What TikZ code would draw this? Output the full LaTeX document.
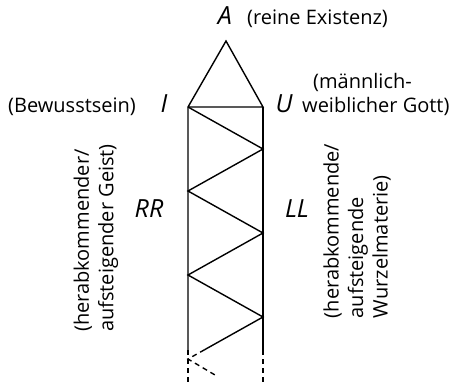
\documentclass[tikz,border=0pt]{standalone}
\usepackage{fontspec}
\setmainfont{Open Sans}
\usetikzlibrary{calc}
\tikzset{
  mainline/.style={line width=1.4pt, black},
  dashline/.style={line width=1.4pt, black, dash pattern=on 5pt off 4pt},
  notetext/.style={font=\fontsize{20}{24.5}\selectfont, inner sep=0pt},
  lettertext/.style={font=\fontsize{25}{26}\selectfont\itshape, inner sep=0pt},
  sidenote/.style={notetext, rotate=90, align=left},
}

\begin{document}
\begin{tikzpicture}[x=1pt, y=-1pt]
  \useasboundingbox (0,0) rectangle (473,382);

  % Corner points
  \coordinate (apex) at (226,41);
  \coordinate (cI) at (188,107);
  \coordinate (cU) at (263,107);

  % Zigzag points
  \coordinate (z1) at (263,149);
  \coordinate (z2) at (188,191);
  \coordinate (z3) at (263,233);
  \coordinate (z4) at (188,275);
  \coordinate (z5) at (263,317);
  \coordinate (z6) at (188,359);
  \coordinate (zcut) at ($(z5)!0.78!(z6)$);
  \coordinate (zend) at (215,375);
  \coordinate (lcut) at (188,350);
  \coordinate (rcut) at (263,350);
  \coordinate (lend) at (188,382);
  \coordinate (rend) at (263,382);

  % Triangle and columns
  \draw[mainline] (cI) -- (apex) -- (cU) -- (cI) -- (lcut);
  \draw[mainline] (cU) -- (rcut);
  \draw[mainline] (cI) -- (z1) -- (z2) -- (z3) -- (z4) -- (z5) -- (zcut);

  % Open ends
  \draw[dashline] (lcut) -- (lend);
  \draw[dashline] (rcut) -- (rend);
  \draw[dashline] (zcut) -- (z6) -- (zend);

  % Top label
  \node[lettertext, anchor=base] (labA) at (225,25) {A};
  \node[notetext, anchor=base west] (noteA) at (247,25) {(reine Existenz)};

  % Corner labels
  \node[lettertext, anchor=base] (labI) at (164,113) {I};
  \node[notetext, anchor=base west] (noteI) at (8,113) {(Bewusstsein)};
  \node[lettertext, anchor=base] (labU) at (284,113) {U};
  \node[notetext, anchor=base west, align=left] (noteU) at (302,113)
    {\hspace{11pt}(männlich-\\weiblicher Gott)};

  % Side labels
  \node[lettertext, anchor=base] (labRR) at (149,217) {RR};
  \node[lettertext, anchor=base] (labLL) at (297,217) {LL};
  \node[sidenote] (noteRR) at (96,238)
    {(herabkommender/\\aufsteigender Geist)};
  \node[sidenote] (noteLL) at (357,231)
    {(herabkommende/\\aufsteigende\\Wurzelmaterie)};
\end{tikzpicture}
\end{document}
